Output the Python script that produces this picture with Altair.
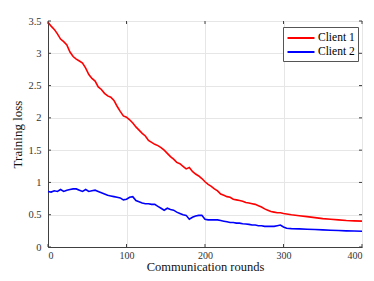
import altair as alt
import pandas as pd

# ---- data ----
rounds_a = list(range(0, 301, 4)) + [310, 320, 330, 340, 350, 360, 370, 380, 390, 400]
client1 = [3.48, 3.42, 3.37, 3.30, 3.22, 3.18, 3.13, 3.02, 2.95, 2.91,
           2.88, 2.85, 2.77, 2.67, 2.61, 2.57, 2.48, 2.44, 2.38, 2.34,
           2.32, 2.27, 2.18, 2.10, 2.03, 2.01, 1.97, 1.92, 1.86, 1.81,
           1.76, 1.72, 1.65, 1.62, 1.59, 1.57, 1.54, 1.50, 1.45, 1.40,
           1.36, 1.31, 1.29, 1.25, 1.21, 1.23, 1.17, 1.13, 1.10, 1.06,
           1.01, 0.97, 0.94, 0.90, 0.87, 0.82, 0.80, 0.78, 0.77, 0.74,
           0.73, 0.72, 0.71, 0.69, 0.68, 0.67, 0.66, 0.64, 0.62, 0.59,
           0.57, 0.55, 0.54, 0.53, 0.53, 0.52,
           0.50, 0.485, 0.47, 0.455, 0.44, 0.43, 0.42, 0.41, 0.405, 0.40]

rounds_b = list(range(0, 305, 4)) + [310, 320, 330, 340, 350, 360, 370, 380, 390, 400]
client2 = [0.86, 0.85, 0.87, 0.86, 0.89, 0.86, 0.88, 0.89, 0.90, 0.90,
           0.88, 0.86, 0.89, 0.86, 0.87, 0.88, 0.86, 0.84, 0.82, 0.80,
           0.79, 0.78, 0.77, 0.76, 0.73, 0.74, 0.77, 0.78, 0.72, 0.70,
           0.68, 0.67, 0.67, 0.66, 0.66, 0.63, 0.60, 0.57, 0.60, 0.58,
           0.57, 0.54, 0.52, 0.50, 0.49, 0.43, 0.46, 0.48, 0.49, 0.49,
           0.43, 0.42, 0.42, 0.42, 0.42, 0.41, 0.40, 0.39, 0.38, 0.38,
           0.37, 0.37, 0.36, 0.355, 0.35, 0.34, 0.34, 0.33, 0.33, 0.32,
           0.32, 0.32, 0.32, 0.33, 0.34, 0.31, 0.29,
           0.285, 0.28, 0.275, 0.27, 0.265, 0.26, 0.255, 0.25, 0.247, 0.245]

series_names = ["Client 1", "Client 2"]
series_colors = ["#ff0000", "#0000ff"]
x_ticks = [0, 100, 200, 300, 400]
y_ticks = [0, 0.5, 1, 1.5, 2, 2.5, 3, 3.5]
x_title = "Communication rounds"
y_title = "Training loss"

df = pd.concat([
    pd.DataFrame({"round": rounds_a, "loss": client1, "series": series_names[0]}),
    pd.DataFrame({"round": rounds_b, "loss": client2, "series": series_names[1]}),
])
dfx = pd.DataFrame({"v": x_ticks})
dfy = pd.DataFrame({"v": y_ticks})

FONT = "Liberation Serif"
AX = "#404040"
W, H = 314, 226

xscale = alt.Scale(domain=[0, 400], nice=False)
yscale = alt.Scale(domain=[0, 3.5], nice=False)
common = dict(tickSize=0, labelFont=FONT, titleFont=FONT, labelFontSize=10.5,
              titleFontSize=13, labelColor="#333", titleColor="#111",
              titleFontWeight="normal")
xaxis = alt.Axis(values=x_ticks, format="d", labelPadding=3, titlePadding=0,
                 **{**common, "labelFontSize": 10, "titleFontSize": 12.5})
yaxis = alt.Axis(values=y_ticks, format="~g", labelPadding=7, titlePadding=3, **common)

lines = alt.Chart(df).mark_line(strokeWidth=1.6, interpolate="linear").encode(
    x=alt.X("round:Q", scale=xscale, axis=xaxis, title=x_title),
    y=alt.Y("loss:Q", scale=yscale, axis=yaxis, title=y_title),
    color=alt.Color("series:N",
                    scale=alt.Scale(domain=series_names, range=series_colors),
                    legend=alt.Legend(title=None, orient="none", legendX=235, legendY=6,
                                      symbolType="M-2,0H2", symbolSize=182,
                                      symbolStrokeWidth=2, symbolOffset=7,
                                      labelFont=FONT,
                                      labelFontSize=11.5, labelColor="#000",
                                      padding=3, rowPadding=0, labelOffset=9,
                                      strokeColor="#555", fillColor="#ffffff")),
)

tick_len = 3
bottom_t = alt.Chart(dfx).mark_rule(color=AX, strokeWidth=1).encode(
    x=alt.X("v:Q", scale=xscale, axis=xaxis, title=x_title),
    y=alt.value(H), y2=alt.value(H - tick_len))
top_t = alt.Chart(dfx).mark_rule(color=AX, strokeWidth=1).encode(
    x=alt.X("v:Q", scale=xscale, axis=xaxis, title=x_title),
    y=alt.value(0), y2=alt.value(tick_len))
left_t = alt.Chart(dfy).mark_rule(color=AX, strokeWidth=1).encode(
    y=alt.Y("v:Q", scale=yscale, axis=yaxis, title=y_title),
    x=alt.value(0), x2=alt.value(tick_len))
right_t = alt.Chart(dfy).mark_rule(color=AX, strokeWidth=1).encode(
    y=alt.Y("v:Q", scale=yscale, axis=yaxis, title=y_title),
    x=alt.value(W), x2=alt.value(W - tick_len))

chart = alt.layer(lines, bottom_t, top_t, left_t, right_t).properties(
    width=W, height=H,
    autosize=alt.AutoSizeParams(type="none"),
    padding={"left": 40, "top": 13, "right": 4, "bottom": 26},
).configure(
    font=FONT
).configure_view(
    stroke=AX, strokeWidth=1
).configure_axis(
    grid=True, gridColor="#e6e6e6", gridWidth=1,
    domainColor=AX, domainWidth=1,
)

chart.save("out.html", embed_options={"renderer": "svg", "actions": False})
